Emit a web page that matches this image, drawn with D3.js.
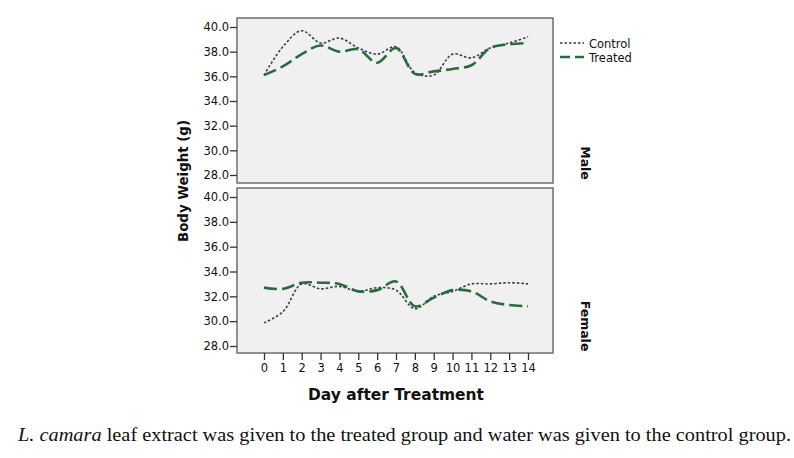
<!DOCTYPE html>
<html><head><meta charset="utf-8">
<script src="https://cdn.jsdelivr.net/npm/d3@7"></script>
<style>body{margin:0;background:#fff;} svg{display:block;}</style>
</head><body>
<svg id="c" width="794" height="458"></svg>
<script>
const days = [0,1,2,3,4,5,6,7,8,9,10,11,12,13,14];
const yTicks = [28,30,32,34,36,38,40];
const panels = ["Male","Female"];
const seriesNames = ["Control","Treated"];
const maleControl   = [36.1,38.4,39.7,38.7,39.1,38.3,37.8,38.4,36.3,36.1,37.8,37.5,38.3,38.7,39.2];
const maleTreated   = [36.1,36.8,37.8,38.5,38.0,38.2,37.1,38.3,36.2,36.4,36.6,36.9,38.3,38.6,38.7];
const femaleControl = [29.86,30.75,33.0,32.6,32.8,32.4,32.7,32.5,31.0,32.0,32.4,33.0,33.0,33.1,33.0];
const femaleTreated = [32.7,32.6,33.1,33.1,33.0,32.4,32.5,33.2,31.2,31.9,32.5,32.4,31.6,31.3,31.2];
const caption = "leaf extract was given to the treated group and water was given to the control group.";

const svg = d3.select("#c");
const x = d3.scaleLinear().domain([0,14]).range([264,528]);
const panelBoxes = [{top:18,bottom:183,y40:27,y28:175},{top:188,bottom:353,y40:197,y28:346}];
const data = [[maleControl,maleTreated],[femaleControl,femaleTreated]];
const left = 237, right = 553;
const font = "DejaVu Sans, Verdana, sans-serif";

panelBoxes.forEach((p,i)=>{
  svg.append("rect").attr("x",left).attr("y",p.top).attr("width",right-left).attr("height",p.bottom-p.top)
    .attr("fill","#f0f0f0").attr("stroke","#6e6e6e").attr("stroke-width",1.5);
  const y = d3.scaleLinear().domain([28,40]).range([p.y28,p.y40]);
  const ax = svg.append("g").attr("transform",`translate(${left},0)`)
    .call(d3.axisLeft(y).tickValues(yTicks).tickFormat(d3.format(".1f")).tickSize(7).tickPadding(1));
  ax.select(".domain").remove();
  ax.selectAll("line").attr("stroke","#333").attr("stroke-width",1.3);
  ax.selectAll("text").attr("font-family",font).attr("font-size",11.5).attr("fill","#111");
  const line = d3.line().x((d,j)=>x(days[j])).y(d=>y(d)).curve(d3.curveCatmullRom.alpha(0.5));
  svg.append("path").datum(data[i][0]).attr("d",line).attr("fill","none")
    .attr("stroke","#3a3a4a").attr("stroke-width",1.6).attr("stroke-dasharray","2.5,2");
  svg.append("path").datum(data[i][1]).attr("d",line).attr("fill","none")
    .attr("stroke","#2a6b3c").attr("stroke-width",2.6).attr("stroke-dasharray","13,5");
  svg.append("text").attr("transform",`translate(${581},${i===0?163:326}) rotate(90)`)
    .attr("text-anchor","middle").attr("font-family",font).attr("font-weight","bold").attr("font-size",12.5)
    .attr("fill","#111").text(panels[i]);
});

const xa = svg.append("g").attr("transform",`translate(0,353)`)
  .call(d3.axisBottom(x).tickValues(days).tickSize(7).tickPadding(4));
xa.select(".domain").remove();
xa.selectAll("line").attr("stroke","#333").attr("stroke-width",1.3);
xa.selectAll("text").attr("font-family",font).attr("font-size",11.5).attr("fill","#111");

svg.append("text").attr("x",396).attr("y",400).attr("text-anchor","middle")
  .attr("font-family",font).attr("font-weight","bold").attr("font-size",15).attr("fill","#111")
  .attr("textLength",176).attr("lengthAdjust","spacingAndGlyphs")
  .text("Day after Treatment");
svg.append("text").attr("transform","translate(188,181) rotate(-90)").attr("text-anchor","middle")
  .attr("font-family",font).attr("font-weight","bold").attr("font-size",14).attr("fill","#111")
  .attr("textLength",122).attr("lengthAdjust","spacingAndGlyphs")
  .text("Body Weight (g)");

// legend
const lg = svg.append("g");
seriesNames.forEach((n,i)=>{
  const yy = 43 + i*14;
  lg.append("line").attr("x1",560).attr("x2",584).attr("y1",yy).attr("y2",yy)
    .attr("stroke", i===0?"#3a3a4a":"#2a6b3c").attr("stroke-width", i===0?1.6:2.6)
    .attr("stroke-dasharray", i===0?"2.5,2":"10,5");
  lg.append("text").attr("x",589).attr("y",yy+4.5).attr("font-family",font).attr("font-size",11.5)
    .attr("fill","#111").text(n);
});

const cap = svg.append("text").attr("x",18).attr("y",441).attr("font-family","Liberation Serif, Times New Roman, serif")
  .attr("font-size",19.5).attr("fill","#111").attr("textLength",773).attr("lengthAdjust","spacingAndGlyphs");
cap.append("tspan").attr("font-style","italic").text("L. camara");
cap.append("tspan").text(" " + caption);
</script>
</body></html>
